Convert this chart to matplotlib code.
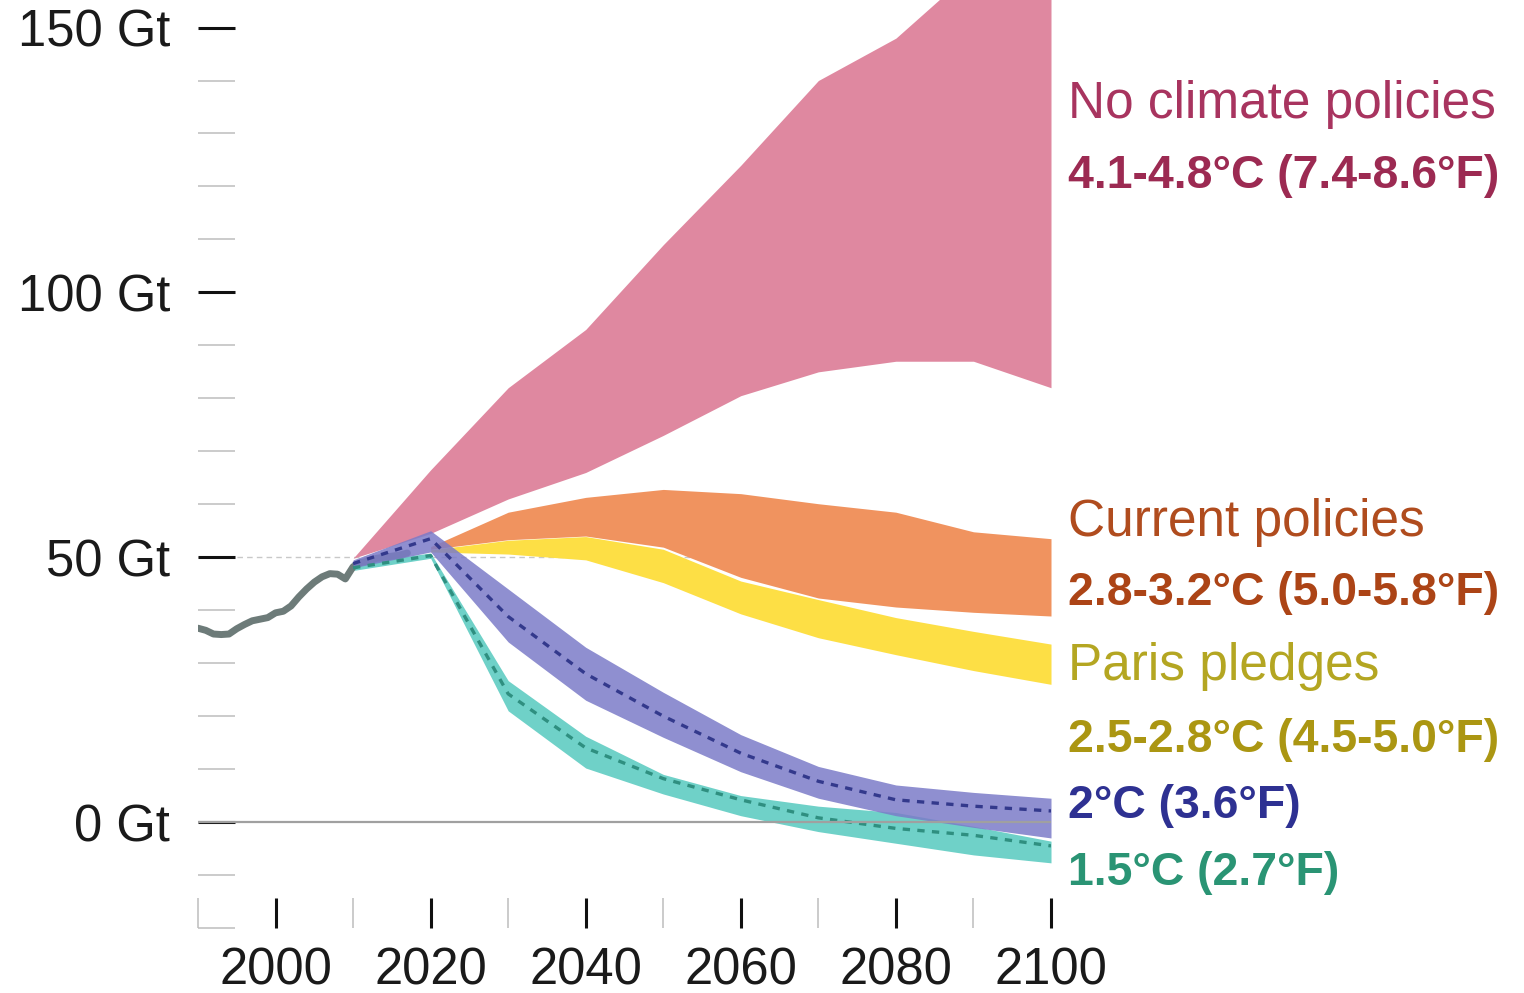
import matplotlib
matplotlib.use("Agg")
import matplotlib.pyplot as plt
from matplotlib.ticker import FixedLocator, FixedFormatter

plt.rcParams['font.family'] = ['Liberation Sans', 'DejaVu Sans']

# ---------------- data ----------------
hist_years = [1990, 1991, 1992, 1993, 1994, 1995, 1996, 1997, 1998, 1999, 2000,
              2001, 2002, 2003, 2004, 2005, 2006, 2007, 2008, 2009, 2010, 2011,
              2012, 2013, 2014, 2015, 2016, 2017]
hist_gt = [36.6, 36.2, 35.5, 35.4, 35.5, 36.5, 37.3, 38.0, 38.3, 38.6, 39.5,
           39.8, 40.8, 42.5, 44.0, 45.3, 46.3, 46.9, 46.8, 45.9, 48.2, 49.0,
           49.3, 49.8, 50.0, 50.2, 50.4, 50.8]

dec_years = [2010, 2020, 2030, 2040, 2050, 2060, 2070, 2080, 2090, 2100]
pink_low = [49.8, 54.5, 61.0, 66.0, 73.0, 80.5, 85.0, 87.0, 87.0, 82.0]
pink_high = [49.8, 66.5, 82.0, 93.0, 109.0, 124.0, 140.0, 148.0, 161.0, 175.0]

fut_years = [2020, 2030, 2040, 2050, 2060, 2070, 2080, 2090, 2100]
orange_high = [52.0, 58.5, 61.3, 62.8, 62.0, 60.1, 58.5, 54.8, 53.5]
orange_low = [51.5, 53.3, 54.0, 51.9, 46.2, 42.3, 40.6, 39.6, 38.9]
yellow_high = [51.4, 53.2, 53.9, 51.5, 45.5, 42.0, 38.6, 36.0, 33.6]
yellow_low = [51.0, 50.6, 49.5, 45.2, 39.3, 34.8, 31.6, 28.6, 26.0]

purple_high = [49.5, 55.0, 44.0, 33.0, 24.5, 16.5, 10.5, 7.0, 5.6, 4.5]
purple_low = [48.0, 51.0, 34.0, 23.0, 16.0, 9.5, 4.5, 1.2, -1.0, -3.0]
purple_mid = [48.8, 53.5, 38.8, 28.0, 20.0, 13.0, 7.7, 4.2, 3.0, 2.1]

teal_high = [48.8, 50.8, 26.7, 16.2, 9.0, 5.0, 3.0, 1.8, -0.8, -3.6]
teal_low = [47.5, 49.8, 21.0, 10.2, 5.3, 1.2, -1.8, -4.0, -6.2, -7.7]
teal_mid = [48.0, 50.3, 24.2, 14.0, 8.2, 4.2, 0.8, -1.2, -2.5, -4.5]

y_major = [0, 50, 100, 150]
y_major_labels = ["0 Gt", "50 Gt", "100 Gt", "150 Gt"]
y_minor = [-20, -10, 10, 20, 30, 40, 60, 70, 80, 90, 110, 120, 130, 140]
x_major = [2000, 2020, 2040, 2060, 2080, 2100]
x_major_labels = ["2000", "2020", "2040", "2060", "2080", "2100"]
x_minor = [1990, 2010, 2030, 2050, 2070, 2090]

labels = [
    ("No climate policies", 133.0, "normal", "#a8345f"),
    ("4.1-4.8°C (7.4-8.6°F)", 119.8, "bold", "#9c2a52"),
    ("Current policies", 54.1, "normal", "#b04c1e"),
    ("2.8-3.2°C (5.0-5.8°F)", 41.0, "bold", "#ac4416"),
    ("Paris pledges", 26.8, "normal", "#b4a622"),
    ("2.5-2.8°C (4.5-5.0°F)", 13.3, "bold", "#ab9612"),
    ("2°C (3.6°F)", 0.8, "bold", "#2e3192"),
    ("1.5°C (2.7°F)", -11.8, "bold", "#2a9474"),
]

# ---------------- figure ----------------
fig = plt.figure(figsize=(15.24, 9.93), dpi=100)
ax = fig.add_axes([198 / 1524, 1 - 928 / 993, (1051 - 198) / 1524, 928 / 993])
ax.set_xlim(1990, 2100)
ax.set_ylim(-20, 155.2)
for s in ax.spines.values():
    s.set_visible(False)

# 50 Gt dotted reference line
ax.axhline(50, color="#c8c8c8", lw=1.0, ls=(0, (4, 3)), zorder=0.5)

ax.fill_between(dec_years, pink_low, pink_high, color="#df88a0", lw=0, zorder=1)
ax.fill_between(fut_years, orange_low, orange_high, color="#f0935f", lw=0, zorder=1.1)
ax.fill_between(fut_years, yellow_low, yellow_high, color="#fddf45", lw=0, zorder=1.2)
ax.fill_between(dec_years, teal_low, teal_high, color="#6fd1c8", lw=0, zorder=1.3)
ax.fill_between(dec_years, purple_low, purple_high, color="#7b7bc8", alpha=0.85, lw=0, zorder=1.4)

ax.plot(dec_years, teal_mid, color="#2f8f80", lw=2.4, ls=(0, (2.2, 2.2)), zorder=1.5)
ax.plot(dec_years, purple_mid, color="#33398c", lw=2.4, ls=(0, (2.2, 2.2)), zorder=1.6)

ax.plot(hist_years, hist_gt, color="#6d7b79", lw=5, solid_capstyle="round",
        solid_joinstyle="round", zorder=1.35)

ax.axhline(0, color="#a0a0a0", lw=1.6, zorder=1.7)

# ticks
ax.yaxis.set_major_locator(FixedLocator(y_major))
ax.yaxis.set_major_formatter(FixedFormatter(y_major_labels))
ax.yaxis.set_minor_locator(FixedLocator(y_minor))
ax.xaxis.set_major_locator(FixedLocator(x_major))
ax.xaxis.set_major_formatter(FixedFormatter(x_major_labels))
ax.xaxis.set_minor_locator(FixedLocator(x_minor))

ax.tick_params(axis="y", which="major", direction="in", length=26.6, width=2.2,
               color="#111111", labelsize=36.5, pad=20, labelcolor="#1a1a1a")
ax.tick_params(axis="y", which="minor", direction="in", length=26.6, width=1.1,
               color="#bdbdbd")
ax.tick_params(axis="x", which="major", direction="in", length=21.5, width=2.2,
               color="#111111", labelsize=36.5, pad=13, labelcolor="#1a1a1a")
ax.tick_params(axis="x", which="minor", direction="in", length=21.5, width=1.1,
               color="#bdbdbd")

for text, y, weight, color in labels:
    size = 37 if weight == "normal" else 33.4
    ax.text(2102.2, y, text, fontsize=size, fontweight=weight, color=color,
            ha="left", va="baseline", clip_on=False)

fig.savefig("out.png", dpi=100)
